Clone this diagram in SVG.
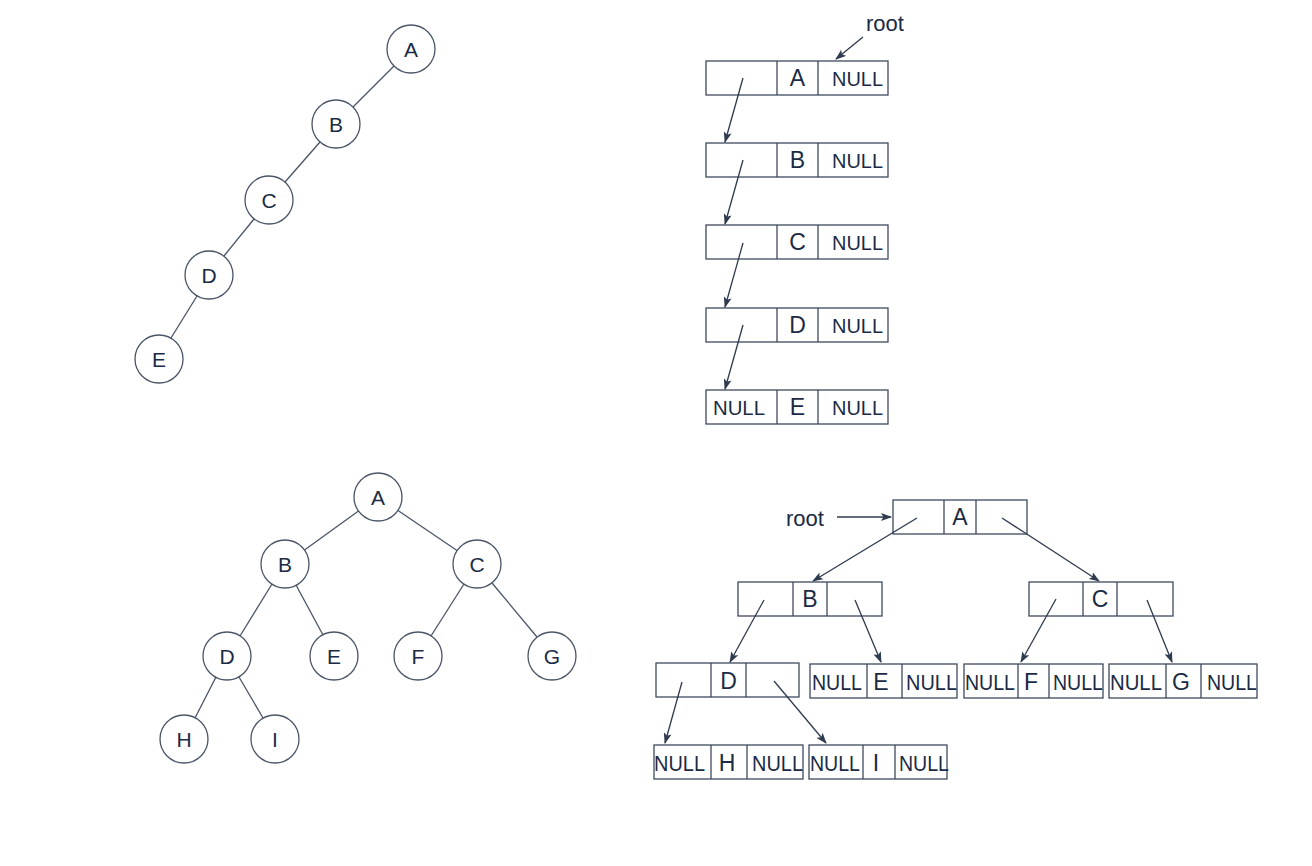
<svg xmlns="http://www.w3.org/2000/svg" width="1312" height="866" viewBox="0 0 1312 866">
<style>
.c{fill:#fff;stroke:#4a5568;stroke-width:1.3}
.b{fill:none;stroke:#3d4a5c;stroke-width:1.3}
.d{stroke:#3d4a5c;stroke-width:1.3}
.e{stroke:#4a5568;stroke-width:1.3;fill:none}
.a{stroke:#2e3a4e;stroke-width:1.3;fill:none;marker-end:url(#ah)}
.t{font-family:"Liberation Sans",Arial,sans-serif;fill:#1b2b45;font-size:21px;text-anchor:middle}
.l{font-family:"Liberation Sans",Arial,sans-serif;fill:#1b2b45;font-size:23px;text-anchor:middle}
.n{font-family:"Liberation Sans",Arial,sans-serif;fill:#1b2b45;font-size:21px}
.r{font-family:"Liberation Sans",Arial,sans-serif;fill:#1b2b45;font-size:22px}
</style>
<defs>
<marker id="ah" markerWidth="11" markerHeight="8" refX="10" refY="4" orient="auto" markerUnits="userSpaceOnUse">
<path d="M0,0 L11,4 L0,8 L2.5,4 z" fill="#2e3a4e"/>
</marker>
</defs>
<rect width="1312" height="866" fill="#fff"/>

<!-- skewed tree nodes -->
<g id="sA"><circle class="c" cx="411" cy="49" r="24"/><text class="t" x="411" y="56.5">A</text></g>
<g id="sB"><circle class="c" cx="336" cy="124" r="24"/><text class="t" x="336" y="131.5">B</text></g>
<g id="sC"><circle class="c" cx="269" cy="200" r="24"/><text class="t" x="269" y="207.5">C</text></g>
<g id="sD"><circle class="c" cx="209" cy="275" r="24"/><text class="t" x="209" y="282.5">D</text></g>
<g id="sE"><circle class="c" cx="159" cy="359" r="24"/><text class="t" x="159" y="366.5">E</text></g>

<!-- balanced tree nodes -->
<g id="tA"><circle class="c" cx="378" cy="497" r="24"/><text class="t" x="378" y="504.5">A</text></g>
<g id="tB"><circle class="c" cx="285" cy="564" r="24"/><text class="t" x="285" y="571.5">B</text></g>
<g id="tC"><circle class="c" cx="477" cy="564" r="24"/><text class="t" x="477" y="571.5">C</text></g>
<g id="tD"><circle class="c" cx="227" cy="656" r="24"/><text class="t" x="227" y="663.5">D</text></g>
<g id="tE"><circle class="c" cx="334" cy="656" r="24"/><text class="t" x="334" y="663.5">E</text></g>
<g id="tF"><circle class="c" cx="418" cy="656" r="24"/><text class="t" x="418" y="663.5">F</text></g>
<g id="tG"><circle class="c" cx="552" cy="656" r="24"/><text class="t" x="552" y="663.5">G</text></g>
<g id="tH"><circle class="c" cx="184" cy="739" r="24"/><text class="t" x="184" y="746.5">H</text></g>
<g id="tI"><circle class="c" cx="275" cy="739" r="24"/><text class="t" x="275" y="746.5">I</text></g>

<!-- linked list -->
<text class="n" x="866" y="31" style="font-size:22px">root</text>
<g id="lA"><rect class="b" x="706" y="61" width="182" height="34"/><line class="d" x1="777" y1="61" x2="777" y2="95"/><line class="d" x1="818" y1="61" x2="818" y2="95"/><text class="l" x="797.5" y="86">A</text><text class="n" x="832" y="86" textLength="51" lengthAdjust="spacingAndGlyphs" style="font-size:20px">NULL</text></g>
<g id="lB"><rect class="b" x="706" y="143" width="182" height="34"/><line class="d" x1="777" y1="143" x2="777" y2="177"/><line class="d" x1="818" y1="143" x2="818" y2="177"/><text class="l" x="797.5" y="168">B</text><text class="n" x="832" y="168" textLength="51" lengthAdjust="spacingAndGlyphs" style="font-size:20px">NULL</text></g>
<g id="lC"><rect class="b" x="706" y="225" width="182" height="34"/><line class="d" x1="777" y1="225" x2="777" y2="259"/><line class="d" x1="818" y1="225" x2="818" y2="259"/><text class="l" x="797.5" y="250">C</text><text class="n" x="832" y="250" textLength="51" lengthAdjust="spacingAndGlyphs" style="font-size:20px">NULL</text></g>
<g id="lD"><rect class="b" x="706" y="308" width="182" height="34"/><line class="d" x1="777" y1="308" x2="777" y2="342"/><line class="d" x1="818" y1="308" x2="818" y2="342"/><text class="l" x="797.5" y="333">D</text><text class="n" x="832" y="333" textLength="51" lengthAdjust="spacingAndGlyphs" style="font-size:20px">NULL</text></g>
<g id="lE"><rect class="b" x="706" y="390" width="182" height="34"/><line class="d" x1="777" y1="390" x2="777" y2="424"/><line class="d" x1="818" y1="390" x2="818" y2="424"/><text class="n" x="713" y="415" textLength="52" lengthAdjust="spacingAndGlyphs" style="font-size:20px">NULL</text><text class="l" x="797.5" y="415">E</text><text class="n" x="832" y="415" textLength="51" lengthAdjust="spacingAndGlyphs" style="font-size:20px">NULL</text></g>

<!-- linked tree -->
<text class="r" x="786" y="526">root</text>
<g id="bA"><rect class="b" x="893" y="500" width="134" height="34"/><line class="d" x1="944" y1="500" x2="944" y2="534"/><line class="d" x1="976" y1="500" x2="976" y2="534"/><text class="l" x="960" y="525">A</text></g>
<g id="bB"><rect class="b" x="738" y="582" width="144" height="34"/><line class="d" x1="793" y1="582" x2="793" y2="616"/><line class="d" x1="827" y1="582" x2="827" y2="616"/><text class="l" x="810" y="607">B</text></g>
<g id="bC"><rect class="b" x="1029" y="582" width="144" height="34"/><line class="d" x1="1083" y1="582" x2="1083" y2="616"/><line class="d" x1="1117" y1="582" x2="1117" y2="616"/><text class="l" x="1100" y="607">C</text></g>
<g id="bD"><rect class="b" x="656" y="663" width="143" height="34"/><line class="d" x1="711" y1="663" x2="711" y2="697"/><line class="d" x1="746" y1="663" x2="746" y2="697"/><text class="l" x="728.5" y="689">D</text></g>
<g id="bE"><rect class="b" x="810" y="664" width="147" height="34"/><line class="d" x1="867" y1="664" x2="867" y2="698"/><line class="d" x1="902" y1="664" x2="902" y2="698"/><text class="r" x="812" y="690" textLength="50" lengthAdjust="spacingAndGlyphs">NULL</text><text class="l" x="881" y="690">E</text><text class="r" x="906" y="690" textLength="51" lengthAdjust="spacingAndGlyphs">NULL</text></g>
<g id="bF"><rect class="b" x="964" y="664" width="139" height="34"/><line class="d" x1="1018" y1="664" x2="1018" y2="698"/><line class="d" x1="1049" y1="664" x2="1049" y2="698"/><text class="r" x="965" y="690" textLength="50" lengthAdjust="spacingAndGlyphs">NULL</text><text class="l" x="1031" y="690">F</text><text class="r" x="1053" y="690" textLength="50" lengthAdjust="spacingAndGlyphs">NULL</text></g>
<g id="bG"><rect class="b" x="1109" y="664" width="148" height="34"/><line class="d" x1="1166" y1="664" x2="1166" y2="698"/><line class="d" x1="1201" y1="664" x2="1201" y2="698"/><text class="r" x="1110" y="690" textLength="52" lengthAdjust="spacingAndGlyphs">NULL</text><text class="l" x="1181" y="690">G</text><text class="r" x="1207" y="690" textLength="50" lengthAdjust="spacingAndGlyphs">NULL</text></g>
<g id="bH"><rect class="b" x="654" y="745" width="149" height="34"/><line class="d" x1="711" y1="745" x2="711" y2="779"/><line class="d" x1="747" y1="745" x2="747" y2="779"/><text class="r" x="654" y="771" textLength="51" lengthAdjust="spacingAndGlyphs">NULL</text><text class="l" x="727" y="771">H</text><text class="r" x="752" y="771" textLength="51" lengthAdjust="spacingAndGlyphs">NULL</text></g>
<g id="bI"><rect class="b" x="809" y="745" width="138" height="34"/><line class="d" x1="863" y1="745" x2="863" y2="779"/><line class="d" x1="895" y1="745" x2="895" y2="779"/><text class="r" x="810" y="771" textLength="50" lengthAdjust="spacingAndGlyphs">NULL</text><text class="l" x="876" y="771">I</text><text class="r" x="899" y="771" textLength="50" lengthAdjust="spacingAndGlyphs">NULL</text></g>

<g id="connectors">
<!-- skewed tree edges -->
<line class="e" x1="394" y1="66" x2="353" y2="107"/>
<line class="e" x1="320" y1="142" x2="285" y2="182"/>
<line class="e" x1="254" y1="219" x2="224" y2="256"/>
<line class="e" x1="197" y1="296" x2="171" y2="338"/>
<!-- balanced tree edges -->
<line class="e" x1="358.5" y1="511" x2="304.5" y2="550"/>
<line class="e" x1="398" y1="510.5" x2="457" y2="550.5"/>
<line class="e" x1="272" y1="584" x2="240" y2="636"/>
<line class="e" x1="296" y1="585" x2="323" y2="635"/>
<line class="e" x1="464" y1="584" x2="431" y2="636"/>
<line class="e" x1="492" y1="583" x2="537" y2="637"/>
<line class="e" x1="216" y1="677" x2="195" y2="718"/>
<line class="e" x1="239" y1="677" x2="263" y2="718"/>
<!-- linked list arrows -->
<line class="a" x1="863" y1="37" x2="836" y2="59"/>
<line class="a" x1="743" y1="78" x2="725" y2="142"/>
<line class="a" x1="743" y1="160" x2="725" y2="224"/>
<line class="a" x1="743" y1="243" x2="725" y2="307"/>
<line class="a" x1="743" y1="325" x2="725" y2="389"/>
<!-- linked tree arrows -->
<line class="a" x1="837" y1="517" x2="891" y2="517"/>
<line class="a" x1="917" y1="518" x2="813" y2="581"/>
<line class="a" x1="1002" y1="518" x2="1099" y2="581"/>
<line class="a" x1="764" y1="600" x2="730" y2="662"/>
<line class="a" x1="855" y1="600" x2="881" y2="662"/>
<line class="a" x1="1056" y1="599" x2="1021" y2="662"/>
<line class="a" x1="1147" y1="600" x2="1172" y2="662"/>
<line class="a" x1="682" y1="682" x2="665" y2="743"/>
<line class="a" x1="774" y1="681" x2="826" y2="743"/>
</g>
</svg>
